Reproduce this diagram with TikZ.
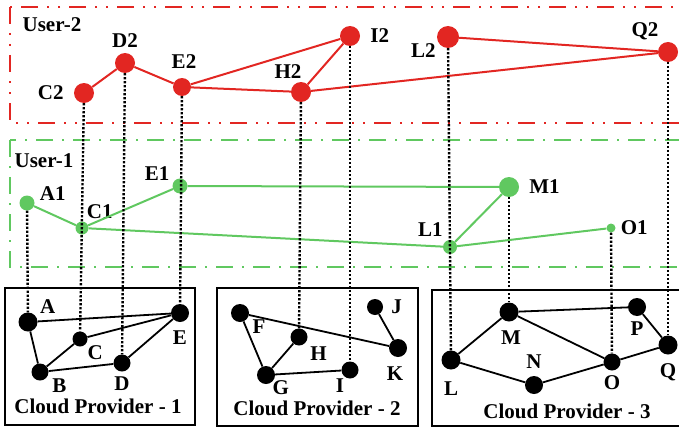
\documentclass[tikz,border=0pt]{standalone}
\usepackage{fontspec}
\setmainfont{Liberation Serif}
\usetikzlibrary{positioning}

\definecolor{userred}{RGB}{226,38,34}
\definecolor{usergreen}{RGB}{96,200,96}

\begin{document}
\begin{tikzpicture}[x=1pt,y=-1pt,
    red node/.style={circle,fill=userred,inner sep=0pt,minimum size=#1},
    red node/.default=20pt,
    green node/.style={circle,fill=usergreen,inner sep=0pt,minimum size=#1},
    green node/.default=14pt,
    cloud node/.style={circle,fill=black,inner sep=0pt,minimum size=#1},
    cloud node/.default=18pt,
    tag/.style={inner sep=0pt,font=\fontsize{21}{25}\selectfont\bfseries},
    red link/.style={draw=userred,line width=2pt},
    green link/.style={draw=usergreen,line width=2pt},
    cloud link/.style={draw=black,line width=1.8pt},
    map link/.style={draw=black,line width=2.4pt,dash pattern=on 2.2pt off 1.8pt},
    red box/.style={draw=userred,line width=2.8pt,dash pattern=on 17pt off 9pt on 2pt off 9pt on 2pt off 9pt},
    green box/.style={draw=usergreen,line width=2.4pt,dash pattern=on 17pt off 9pt on 2pt off 9pt},
    cloud box/.style={draw=black,line width=1.8pt}]

    \useasboundingbox (0,0) rectangle (679,428);

    % user and provider frames
    \draw[red box] (10,7) rectangle (700,123);
    \draw[green box] (10,140) rectangle (700,267);
    \draw[cloud box] (5,288) rectangle (195,425);
    \draw[cloud box] (217,288) rectangle (418,426);
    \draw[cloud box] (432,290) rectangle (700,426);

    \node[tag] (user2) at (52,25) {User-2};
    \node[tag] (user1) at (44,161) {User-1};
    \node[tag] (cp1) at (98,406) {Cloud Provider - 1};
    \node[tag] (cp2) at (317,408) {Cloud Provider - 2};
    \node[tag] (cp3) at (567,411) {Cloud Provider - 3};

    % user 2
    \node[red node] (c2) at (84,93) {};
    \node[red node] (d2) at (125,63) {};
    \node[red node=18pt] (e2) at (182,87) {};
    \node[red node] (h2) at (301,92) {};
    \node[red node] (i2) at (350,36) {};
    \node[red node=22pt] (l2) at (448,37) {};
    \node[red node] (q2) at (668,52) {};

    \node[tag,left=10pt of c2] (c2-tag) {C2};
    \node[tag,above=5pt of d2] (d2-tag) {D2};
    \node[tag,above=9pt of e2,xshift=2pt] (e2-tag) {E2};
    \node[tag,above=3pt of h2,xshift=-13pt] (h2-tag) {H2};
    \node[tag,right=10pt of i2] (i2-tag) {I2};
    \node[tag,left=1pt of l2,yshift=-14pt] (l2-tag) {L2};
    \node[tag,above=2pt of q2,xshift=-23pt] (q2-tag) {Q2};

    % user 1
    \node[green node=15pt] (a1) at (27,203) {};
    \node[green node=13pt] (c1) at (82,228) {};
    \node[green node=15pt] (e1) at (180,186) {};
    \node[green node=20pt] (m1) at (509,187) {};
    \node[green node=14pt] (l1) at (450,247) {};
    \node[green node=9pt] (o1) at (611,228) {};

    \node[tag,right=5pt of a1,yshift=9pt] (a1-tag) {A1};
    \node[tag,above right=4pt and 0pt of c1] (c1-tag) {C1};
    \node[tag,above left=0pt and 5pt of e1] (e1-tag) {E1};
    \node[tag,right=10pt of m1] (m1-tag) {M1};
    \node[tag,above left=5pt and 2pt of l1] (l1-tag) {L1};
    \node[tag,right=5pt of o1] (o1-tag) {O1};

    % cloud provider 1
    \node[cloud node=19pt] (a) at (28,322) {};
    \node[cloud node=17pt] (b) at (40,372) {};
    \node[cloud node=15pt] (c) at (80,339) {};
    \node[cloud node=17pt] (d) at (122,363) {};
    \node[cloud node] (e) at (180,313) {};

    \node[tag,above right=1pt and 5pt of a] (a-tag) {A};
    \node[tag,below right=0pt and 6pt of b] (b-tag) {B};
    \node[tag,below right=1pt and 2pt of c] (c-tag) {C};
    \node[tag,below=5pt of d] (d-tag) {D};
    \node[tag,below=8pt of e] (e-tag) {E};

    % cloud provider 2
    \node[cloud node] (f) at (240,313) {};
    \node[cloud node=17pt] (h) at (299,337) {};
    \node[cloud node] (g) at (266,375) {};
    \node[cloud node=17pt] (i) at (350,370) {};
    \node[cloud node=16pt] (j) at (375,307) {};
    \node[cloud node] (k) at (398,348) {};

    \node[tag,below right=0pt and 6pt of f] (f-tag) {F};
    \node[tag,below right=3pt and 5pt of h] (h-tag) {H};
    \node[tag,below right=-1pt and 0pt of g] (g-tag) {G};
    \node[tag,below=0pt of i,xshift=-10pt] (i-tag) {I};
    \node[tag,right=8pt of j] (j-tag) {J};
    \node[tag,below=9pt of k,xshift=-3pt] (k-tag) {K};

    % cloud provider 3
    \node[cloud node=19pt] (l) at (451,360) {};
    \node[cloud node=19pt] (m) at (509,312) {};
    \node[cloud node] (n) at (534,385) {};
    \node[cloud node=17pt] (o) at (612,362) {};
    \node[cloud node] (p) at (637,307) {};
    \node[cloud node=19pt] (q) at (668,345) {};

    \node[tag,below=12pt of l] (l-tag) {L};
    \node[tag,below=9pt of m,xshift=2pt] (m-tag) {M};
    \node[tag,above=7pt of n] (n-tag) {N};
    \node[tag,below=5pt of o] (o-tag) {O};
    \node[tag,below=5pt of p] (p-tag) {P};
    \node[tag,below=9pt of q] (q-tag) {Q};

    % links
    \path (c2) edge[red link] (d2) (d2) edge[red link] (e2)
          (e2) edge[red link] (i2) (e2) edge[red link] (h2)
          (h2) edge[red link] (i2) (h2) edge[red link] (q2)
          (l2) edge[red link] (q2);
    \path (a1) edge[green link] (c1) (c1) edge[green link] (e1)
          (e1) edge[green link] (m1) (c1) edge[green link] (l1)
          (l1) edge[green link] (m1) (l1) edge[green link] (o1);
    \path (a) edge[cloud link] (e) (a) edge[cloud link] (b)
          (b) edge[cloud link] (c) (c) edge[cloud link] (e)
          (b) edge[cloud link] (d) (d) edge[cloud link] (e);
    \path (f) edge[cloud link] (k) (f) edge[cloud link] (g)
          (g) edge[cloud link] (h) (g) edge[cloud link] (i)
          (j) edge[cloud link] (k);
    \path (l) edge[cloud link] (m) (m) edge[cloud link] (p)
          (p) edge[cloud link] (q) (m) edge[cloud link] (o)
          (l) edge[cloud link] (n) (n) edge[cloud link] (o)
          (o) edge[cloud link] (q);

    % mapping of virtual nodes
    \path (a1) edge[map link] (a) (c2) edge[map link] (c)
          (d2) edge[map link] (d) (e2) edge[map link] (e)
          (h2) edge[map link] (h) (i2) edge[map link] (i)
          (l2) edge[map link] (l) (m1) edge[map link] (m)
          (o1) edge[map link] (o) (q2) edge[map link] (q);
\end{tikzpicture}
\end{document}
